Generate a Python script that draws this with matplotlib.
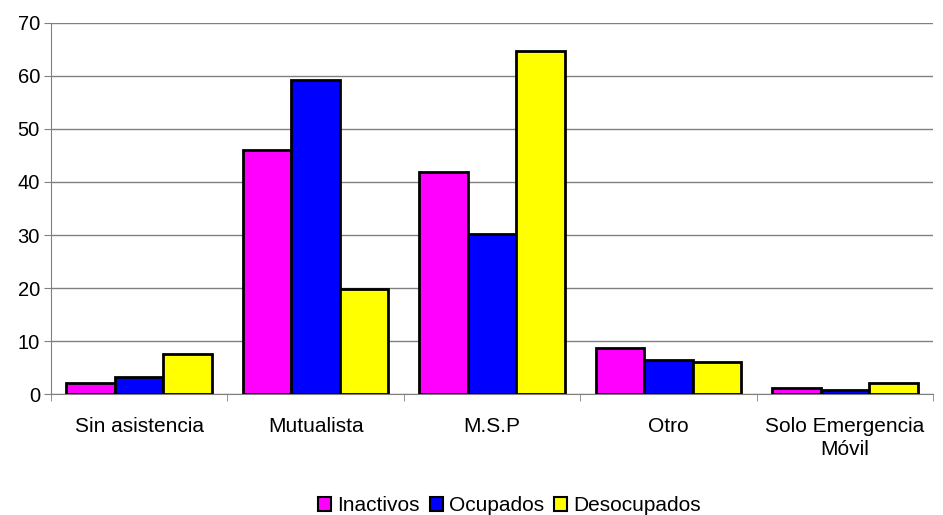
import matplotlib.pyplot as plt
import numpy as np

plt.rcParams['font.family'] = ['Liberation Sans', 'DejaVu Sans']

categories = ['Sin asistencia', 'Mutualista', 'M.S.P', 'Otro', 'Solo Emergencia\nMóvil']
series = ['Inactivos', 'Ocupados', 'Desocupados']
inactivos = [2.1, 46.1, 41.9, 8.7, 1.1]
ocupados = [3.2, 59.3, 30.2, 6.5, 0.8]
desocupados = [7.5, 19.8, 64.7, 6.0, 2.1]
colors = ['#FF00FF', '#0000FF', '#FFFF00']

fig = plt.figure(figsize=(9.43, 5.15), dpi=100)
ax = fig.add_axes([51/943, 1-394.3/515, (933-51)/943, (394.3-22.7)/515])

x = np.arange(len(categories))
w = 0.275
for i, vals in enumerate([inactivos, ocupados, desocupados]):
    ax.bar(x + (i-1)*w, vals, w, color=colors[i], edgecolor='black', linewidth=2,
           label=series[i], zorder=3)

ax.set_xlim(-0.5, len(categories)-0.5)
ax.set_ylim(0, 70)
ax.set_yticks(range(0, 71, 10))
ax.yaxis.grid(True, color='#808080', linewidth=1)
ax.set_axisbelow(True)

ax.set_xticks(x)
ax.set_xticklabels(categories, fontsize=15, linespacing=1.3)
ax.tick_params(axis='x', length=0, pad=16)
ax.set_xticks(np.arange(-0.5, len(categories)), minor=True)
ax.tick_params(axis='x', which='minor', length=5, color='#808080', direction='out')
ax.tick_params(axis='y', labelsize=14.5, length=5, color='#808080', direction='out', pad=3)

for s in ['top', 'right']:
    ax.spines[s].set_visible(False)
for s in ['left', 'bottom']:
    ax.spines[s].set_color('#808080')

leg = ax.legend(loc='center', bbox_to_anchor=(0.52, -0.3), ncol=3, frameon=False,
                fontsize=15, handlelength=0.6, handleheight=0.6, handletextpad=0.3,
                columnspacing=0.5, borderpad=0)
for h in leg.legend_handles:
    h.set_linewidth(1.5)

fig.savefig('out.png', dpi=100)
